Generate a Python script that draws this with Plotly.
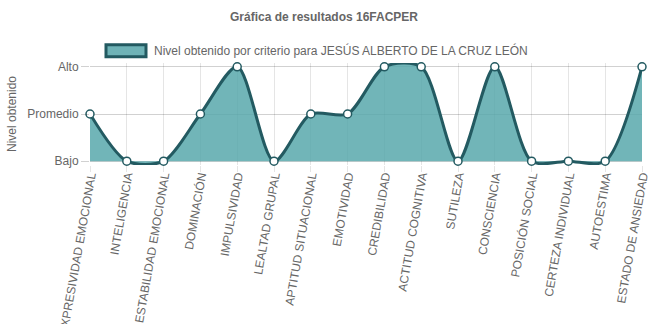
import plotly.graph_objects as go

categories = ["EXPRESIVIDAD EMOCIONAL", "INTELIGENCIA", "ESTABILIDAD EMOCIONAL", "DOMINACIÓN",
              "IMPULSIVIDAD", "LEALTAD GRUPAL", "APTITUD SITUACIONAL", "EMOTIVIDAD",
              "CREDIBILIDAD", "ACTITUD COGNITIVA", "SUTILEZA", "CONSCIENCIA",
              "POSICIÓN SOCIAL", "CERTEZA INDIVIDUAL", "AUTOESTIMA", "ESTADO DE ANSIEDAD"]
values = [1, 0, 0, 1, 2, 0, 1, 1, 2, 2, 0, 2, 0, 0, 0, 2]
level_vals = [0, 1, 2]
level_text = ["Bajo", "Promedio", "Alto"]
series_name = "Nivel obtenido por criterio para JESÚS ALBERTO DE LA CRUZ LEÓN"
title_text = "Gráfica de resultados 16FACPER"
y_title = "Nivel obtenido"

FILL = "rgba(88,168,172,0.85)"
LINE = "#235a61"
GREY = "#666666"
FONT = "Liberation Sans, Arial, sans-serif"

x_idx = list(range(len(categories)))

W, H = 648, 324
EXT = 0.08                      # small headroom so the smooth line is not clipped
Y_TOP_PX, Y_BOT_PX = 67, 161    # pixel rows of Alto and Bajo
scale = (Y_BOT_PX - Y_TOP_PX) / 2.0
L, R = 90, 6
T = Y_TOP_PX - EXT * scale
B = H - (Y_BOT_PX + EXT * scale)
pw, ph = W - L - R, H - T - B

def px_x(p):
    return (p - L) / pw

def px_y(p):
    return (H - B - p) / ph

fig = go.Figure()
fig.add_trace(go.Scatter(
    x=x_idx, y=values, mode="lines", fill="tozeroy",
    fillcolor=FILL, line=dict(color=LINE, width=3, shape="spline", smoothing=0.8),
    showlegend=False, hoverinfo="skip"))
fig.add_trace(go.Scatter(
    x=x_idx, y=values, mode="markers", cliponaxis=False,
    marker=dict(size=8, color="white", line=dict(color=LINE, width=1.5)),
    showlegend=False))

fig.add_shape(type="rect", xref="paper", yref="paper",
              x0=px_x(106), x1=px_x(146), y0=px_y(57), y1=px_y(45),
              fillcolor="#6fb3b7", line=dict(color=LINE, width=3))
fig.add_annotation(xref="paper", yref="paper", x=px_x(152), y=px_y(51),
                   xanchor="left", yanchor="middle", showarrow=False,
                   text=series_name, font=dict(size=12, color=GREY, family=FONT))
fig.add_annotation(xref="paper", yref="paper", x=px_x(12), y=px_y(114), textangle=-90,
                   xanchor="center", yanchor="middle", showarrow=False,
                   text=y_title, font=dict(size=12, color=GREY, family=FONT))

fig.update_layout(
    width=W, height=H,
    margin=dict(l=L, r=R, t=T, b=B),
    paper_bgcolor="white", plot_bgcolor="white",
    title=dict(text="<b>" + title_text + "</b>", x=0.5, xref="container", xanchor="center",
               y=1 - 17 / H, yref="container", yanchor="middle",
               font=dict(size=12, color=GREY, family=FONT)),
    font=dict(family=FONT, size=12, color=GREY),
    xaxis=dict(range=[0, len(categories) - 1], tickmode="array", tickvals=x_idx,
               ticktext=categories, tickangle=-80, showgrid=True, automargin=False,
               gridcolor="rgba(0,0,0,0.1)", ticks="outside", ticklen=6,
               ticklabelstandoff=-8, ticklabeloverflow="allow",
               tickcolor="rgba(0,0,0,0.1)", zeroline=False, showline=False,
               tickfont=dict(size=12, color=GREY, family=FONT)),
    yaxis=dict(range=[-EXT, 2 + EXT], tickmode="array", tickvals=level_vals, ticktext=level_text,
               showgrid=True, gridcolor="rgba(0,0,0,0.18)", ticks="outside", ticklen=8,
               tickcolor="rgba(0,0,0,0.18)", zeroline=False, automargin=False,
               showline=False,
               tickfont=dict(size=12, color=GREY, family=FONT)),
)

fig.write_html("out.html")
